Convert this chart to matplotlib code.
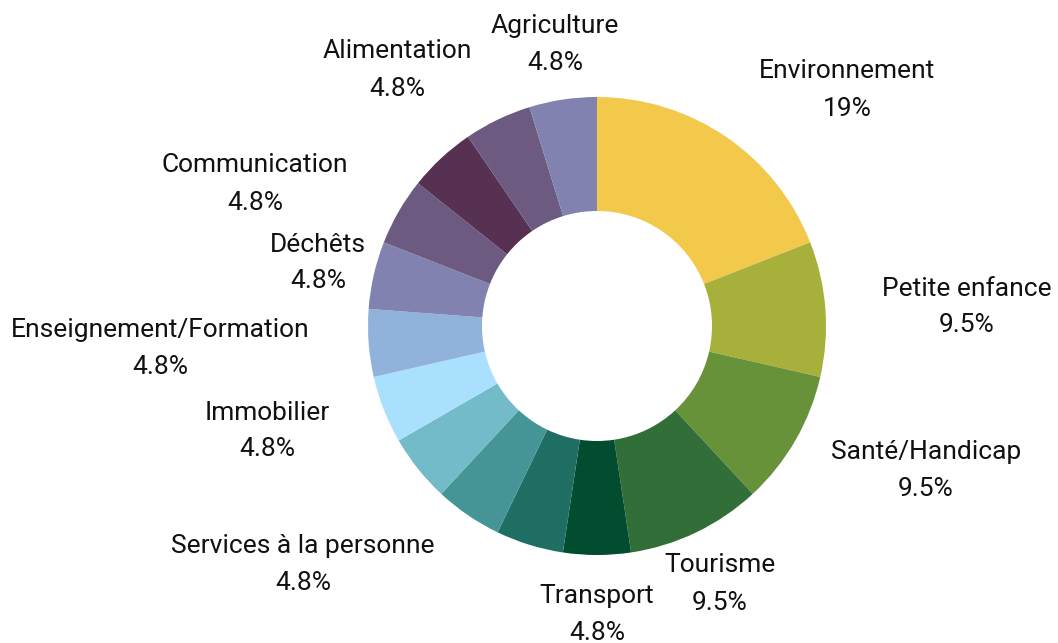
import matplotlib
matplotlib.use("Agg")
import matplotlib.pyplot as plt

categories = ["Environnement", "Petite enfance", "Santé/Handicap", "Tourisme", "Transport",
              "", "", "Services à la personne", "Immobilier", "Enseignement/Formation",
              "Déchêts", "Communication", "", "Alimentation", "Agriculture"]
values = [4, 2, 2, 2, 1, 1, 1, 1, 1, 1, 1, 1, 1, 1, 1]
colors = ["#F2C94A", "#A8B03C", "#67923A", "#316E38", "#024D30",
          "#1F6E64", "#459597", "#73BBC9", "#A8E0FE", "#91B3DB",
          "#8182AF", "#6C5A80", "#563152", "#6C5A80", "#8182AF"]

# label block centres, pixel coordinates in the image (x, y from top)
label_pos = {
    "Environnement": (847, 90),
    "Petite enfance": (967, 307),
    "Santé/Handicap": (926, 470),
    "Tourisme": (720, 584),
    "Transport": (597, 614),
    "Services à la personne": (303, 564),
    "Immobilier": (267, 431),
    "Enseignement/Formation": (160, 349),
    "Déchêts": (318, 263),
    "Communication": (255, 184),
    "Alimentation": (397, 70),
    "Agriculture": (555, 45),
}

W, H = 1058, 643
fig = plt.figure(figsize=(W / 100, H / 100), dpi=100)
ax = fig.add_axes([0, 0, 1, 1])

cx, cy = 597, H - 326
R = 229
ax.pie(values, colors=colors, startangle=90, counterclock=False,
       center=(cx, cy), radius=R, frame=True,
       wedgeprops=dict(width=R - 115, linewidth=0))
ax.set_xlim(0, W)
ax.set_ylim(0, H)
ax.set_aspect("equal")
ax.axis("off")

total = sum(values)
font = dict(family=["Roboto", "DejaVu Sans"], fontsize=19, color="#111111")
for name, v in zip(categories, values):
    if not name:
        continue
    x, y = label_pos[name]
    y = H - y
    pct = f"{100 * v / total:.2g}%"
    ax.text(x, y + 18.5, name, ha="center", va="center", **font)
    ax.text(x, y - 18.5, pct, ha="center", va="center", **font)

fig.savefig("out.png", dpi=100)
